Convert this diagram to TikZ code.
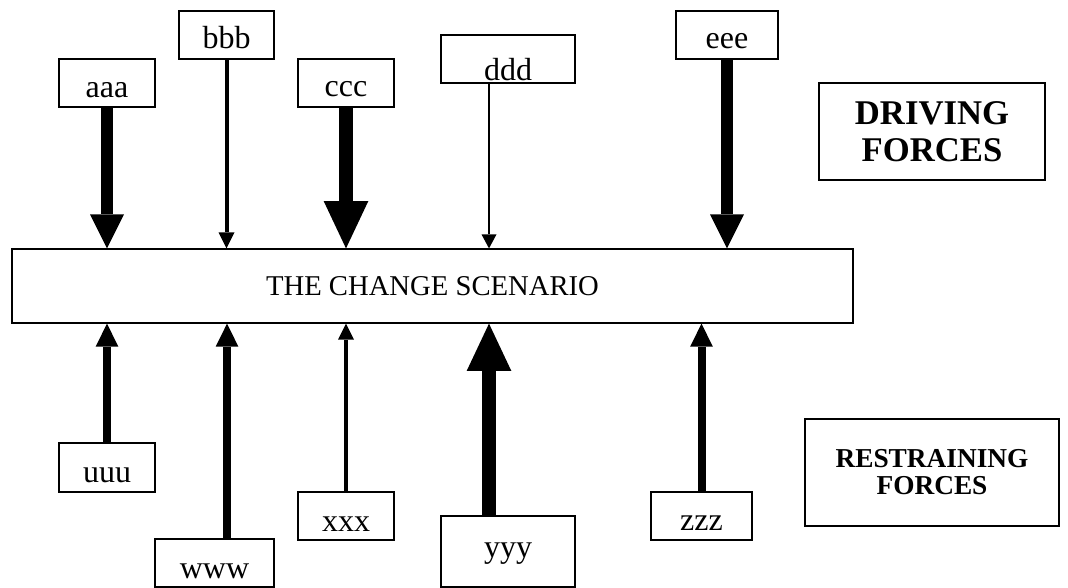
\documentclass[tikz,border=0pt]{standalone}
\usepackage{fontspec}
\setmainfont{Liberation Serif}
\usetikzlibrary{arrows.meta}

\begin{document}
\begin{tikzpicture}[x=0.75pt, y=-0.75pt]
    % Define styles
    \tikzstyle{factor} = [rectangle, draw, line width=0.9pt, inner sep=0pt, minimum width=72pt, text height=29.25pt, text depth=6.75pt, font=\fontsize{24pt}{28pt}\selectfont]
    \tikzstyle{title} = [rectangle, draw, line width=0.9pt, align=center, font=\bfseries]
    \tikzstyle{forcethin} = [line width=1.5pt, -{Triangle[width=11.25pt, length=10.5pt, line width=0pt]}]
    \tikzstyle{forcelight} = [line width=3pt, -{Triangle[width=12pt, length=12pt, line width=0pt]}]
    \tikzstyle{forcemed} = [line width=6pt, -{Triangle[width=17pt, length=17.25pt, line width=0pt]}]
    \tikzstyle{forceheavy} = [line width=8.5pt, -{Triangle[width=25.5pt, length=25.5pt, line width=0pt]}]
    \tikzstyle{forcemax} = [line width=10.5pt, -{Triangle[width=33.5pt, length=35.5pt, line width=0pt]}]

    \useasboundingbox (0,0) rectangle (1068,588);

    % Nodes
    \node (scen) [rectangle, draw, line width=0.9pt, minimum width=630.75pt, minimum height=55.5pt, font=\fontsize{21.5pt}{26pt}\selectfont] at (432.5,286) {THE CHANGE SCENARIO};

    \node (aaa) [factor] at (107,83) {aaa};
    \node (bbb) [factor, minimum width=71.25pt, text depth=7.5pt, text height=28.5pt] at (226.5,35) {bbb};
    \node (ccc) [factor, text depth=7.5pt, text height=28.5pt] at (346,83) {ccc};
    \node (ddd) [factor, minimum width=100.5pt, text depth=2pt, text height=34pt] at (508,59) {ddd};
    \node (eee) [factor, minimum width=76.5pt, text depth=7.5pt, text height=28.5pt] at (727,35) {eee};

    \node (uuu) [factor, text depth=7.5pt, text height=29.25pt] at (107,467.5) {uuu};
    \node (www) [factor, minimum width=89.25pt] at (214.5,563) {www};
    \node (xxx) [factor] at (346,516) {xxx};
    \node (yyy) [factor, minimum width=100.5pt, text depth=22.5pt, text height=30.75pt] at (508,551.5) {yyy};
    \node (zzz) [factor, minimum width=75.75pt, text depth=7.5pt, text height=28.5pt] at (701.5,516) {zzz};

    \node (drive) [title, minimum width=169.5pt, minimum height=72.75pt, font=\fontsize{26pt}{27.75pt}\selectfont\bfseries] at (932,131.5) {DRIVING\\FORCES};
    \node (restr) [title, minimum width=190.5pt, minimum height=80.25pt, font=\fontsize{20.5pt}{20.25pt}\selectfont\bfseries] at (932,472.5) {RESTRAINING\\FORCES};

    % Arrows
    \draw [forceheavy] (aaa.south) -- (aaa.south |- scen.north);
    \draw [forcelight] (bbb.south) -- (bbb.south |- scen.north);
    \draw [forcemax] (ccc.south) -- (ccc.south |- scen.north);
    \draw [forcethin] ([xshift=-14.25pt]ddd.south) -- ([xshift=-14.25pt]ddd.south |- scen.north);
    \draw [forceheavy] (eee.south) -- (eee.south |- scen.north);

    \draw [forcemed] (uuu.north) -- (uuu.north |- scen.south);
    \draw [forcemed] ([xshift=9.4pt]www.north) -- ([xshift=9.4pt]www.north |- scen.south);
    \draw [forcelight] (xxx.north) -- (xxx.north |- scen.south);
    \draw [forcemax] ([xshift=-14.25pt]yyy.north) -- ([xshift=-14.25pt]yyy.north |- scen.south);
    \draw [forcemed] (zzz.north) -- (zzz.north |- scen.south);
\end{tikzpicture}
\end{document}
